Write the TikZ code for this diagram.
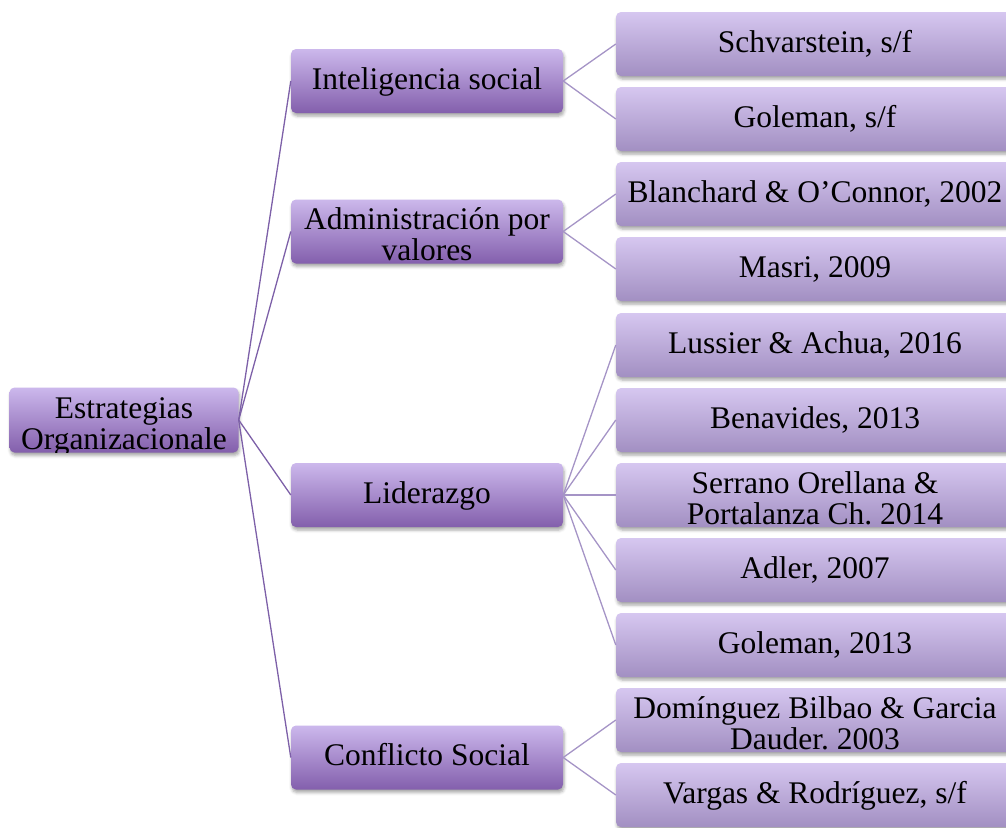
\documentclass[tikz,border=0pt]{standalone}
\usepackage{fontspec}
\setmainfont{Liberation Serif}
\usepackage{tikz}
\usetikzlibrary{shadows.blur}
\frenchspacing
\definecolor{LilacTop}{RGB}{204,184,236}
\definecolor{LilacBottom}{RGB}{131,95,172}
\definecolor{PaleTop}{RGB}{214,199,240}
\definecolor{PaleBottom}{RGB}{162,143,194}
\definecolor{LinkDark}{RGB}{125,96,168}
\definecolor{LinkPale}{RGB}{165,148,198}
\tikzset{
  box/.style={rectangle, rounded corners=5pt, minimum height=64pt, inner sep=0pt,
    font=\fontsize{31.5}{31}\selectfont, align=center, text height=22pt, text depth=6pt,
    blur shadow={shadow xshift=1pt, shadow yshift=-3pt, shadow blur radius=3pt, shadow opacity=35}},
  rootbox/.style={box, minimum width=229pt, minimum height=65pt, top color=LilacTop, bottom color=LilacBottom},
  midbox/.style={box, minimum width=272pt, top color=LilacTop, bottom color=LilacBottom},
  leafbox/.style={box, minimum width=398pt, top color=PaleTop, bottom color=PaleBottom},
  boxtext/.style={inner sep=0pt, font=\fontsize{31.5}{31}\selectfont, align=center,
    text height=22pt, text depth=6pt, yshift=-21pt},
  darklink/.style={LinkDark, line width=1.3pt},
  palelink/.style={LinkPale, line width=1.3pt}
}
\begin{document}
\begin{tikzpicture}[x=1pt, y=-1pt]
  \clip (0,0) rectangle (1006,827);

  % root
  \node[rootbox] (root) at (124,420) {};
  \begin{scope}
    \clip[rounded corners=5pt] (root.south west) rectangle (root.north east);
    \node[boxtext] (roottext) at (root) {Estrategias\\Organizacionale};
  \end{scope}

  % second level
  \node[midbox] (intel) at (427,81) {Inteligencia social};
  \node[midbox] (admin) at (427,231.5) {};
  \node[boxtext] (admintext) at (admin) {Administración por\\valores};
  \node[midbox] (lider) at (427,495) {Liderazgo};
  \node[midbox] (conflict) at (427,757.5) {Conflicto Social};

  % authors
  \node[leafbox] (schv) at (815,44) {Schvarstein, s/f};
  \node[leafbox] (golsf) at (815,119) {Goleman, s/f};
  \node[leafbox] (blanch) at (815,194) {Blanchard \& O'Connor, 2002};
  \node[leafbox] (masri) at (815,269) {Masri, 2009};
  \node[leafbox] (lussier) at (815,345) {Lussier \& Achua, 2016};
  \node[leafbox] (benav) at (815,420) {Benavides, 2013};
  \node[leafbox] (serrano) at (815,495) {};
  \begin{scope}
    \clip[rounded corners=5pt] (serrano.south west) rectangle (serrano.north east);
    \node[boxtext] (serranotext) at (serrano) {Serrano Orellana \&\\Portalanza Ch. 2014};
  \end{scope}
  \node[leafbox] (adler) at (815,570) {Adler, 2007};
  \node[leafbox] (gol13) at (815,645) {Goleman, 2013};
  \node[leafbox] (doming) at (815,720) {};
  \begin{scope}
    \clip[rounded corners=5pt] (doming.south west) rectangle (doming.north east);
    \node[boxtext] (domingtext) at (doming) {Domínguez Bilbao \& Garcia\\Dauder. 2003};
  \end{scope}
  \node[leafbox] (vargas) at (815,795) {Vargas \& Rodríguez, s/f};

  % links
  \foreach \n in {intel,admin,lider,conflict}
    \draw[darklink] (root.east) -- (\n.west);
  \foreach \n in {schv,golsf}
    \draw[palelink] (intel.east) -- (\n.west);
  \foreach \n in {blanch,masri}
    \draw[palelink] (admin.east) -- (\n.west);
  \foreach \n in {lussier,benav,serrano,adler,gol13}
    \draw[palelink] (lider.east) -- (\n.west);
  \foreach \n in {doming,vargas}
    \draw[palelink] (conflict.east) -- (\n.west);
\end{tikzpicture}
\end{document}
